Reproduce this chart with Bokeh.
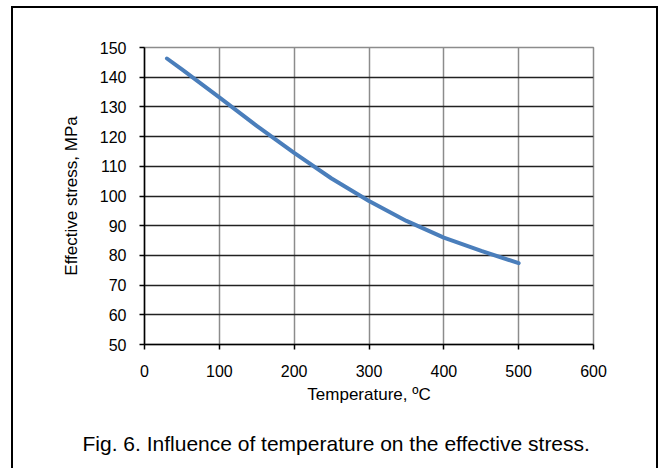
from bokeh.plotting import figure
from bokeh.models import Range1d, FixedTicker, Title, ColumnDataSource
from bokeh.embed import file_html
from bokeh.resources import INLINE

# Data
temperature = [30, 50, 100, 150, 200, 250, 300, 350, 400, 450, 500]
stress = [146.3, 142.6, 133.2, 123.6, 114.5, 105.9, 98.3, 91.6, 86.0, 81.5, 77.4]

x_ticks = [0, 100, 200, 300, 400, 500, 600]
y_ticks = [50, 60, 70, 80, 90, 100, 110, 120, 130, 140, 150]

x_title = "Temperature, \u00baC"
y_title = "Effective stress, MPa"
caption = "Fig. 6. Influence of temperature on the effective stress."

FONT = "Liberation Sans"

p = figure(width=647, height=472, output_backend="svg", toolbar_location=None,
           x_range=Range1d(0, 600), y_range=Range1d(50, 150),
           min_border_left=131, min_border_right=67, min_border_top=39,
           min_border_bottom=136, background_fill_color="white",
           border_fill_color="white")
p.styles = {"border": "2px solid black", "margin-left": "11px", "margin-top": "6px"}

src = ColumnDataSource(dict(x=temperature, y=stress))
p.line("x", "y", source=src, line_color="#4A7EBB", line_width=4,
       line_join="round", line_cap="round")

# axes
p.xaxis.ticker = FixedTicker(ticks=x_ticks)
p.yaxis.ticker = FixedTicker(ticks=y_ticks)
for ax in (p.xaxis[0], p.yaxis[0]):
    ax.axis_line_color = "black"
    ax.axis_line_width = 1.5
    ax.major_tick_line_color = "black"
    ax.major_tick_line_width = 1.5
    ax.major_tick_out = 5
    ax.major_tick_in = 0
    ax.minor_tick_line_color = None
    ax.major_label_text_font = FONT
    ax.major_label_text_font_size = "16px"
    ax.major_label_text_color = "black"
    ax.axis_label_text_font = FONT
    ax.axis_label_text_font_size = "17px"
    ax.axis_label_text_font_style = "normal"
    ax.axis_label_text_color = "black"

p.xaxis.axis_label = x_title
p.yaxis.axis_label = y_title
p.xaxis.major_label_standoff = 15
p.yaxis.major_label_standoff = 13
p.xaxis.axis_label_standoff = 5
p.yaxis.axis_label_standoff = 16

# grid
p.ygrid.grid_line_color = "#222222"
p.ygrid.grid_line_width = 1.5
p.xgrid.grid_line_color = "#8c8c8c"
p.xgrid.grid_line_width = 1.5
p.outline_line_color = "#8c8c8c"
p.outline_line_width = 1.5

# caption below the chart
p.add_layout(Title(text=caption, align="left", offset=-62, standoff=47,
                   text_font=FONT, text_font_size="21px", text_font_style="normal",
                   text_color="black"), "below")

open("out.html", "w").write(file_html(p, INLINE))
